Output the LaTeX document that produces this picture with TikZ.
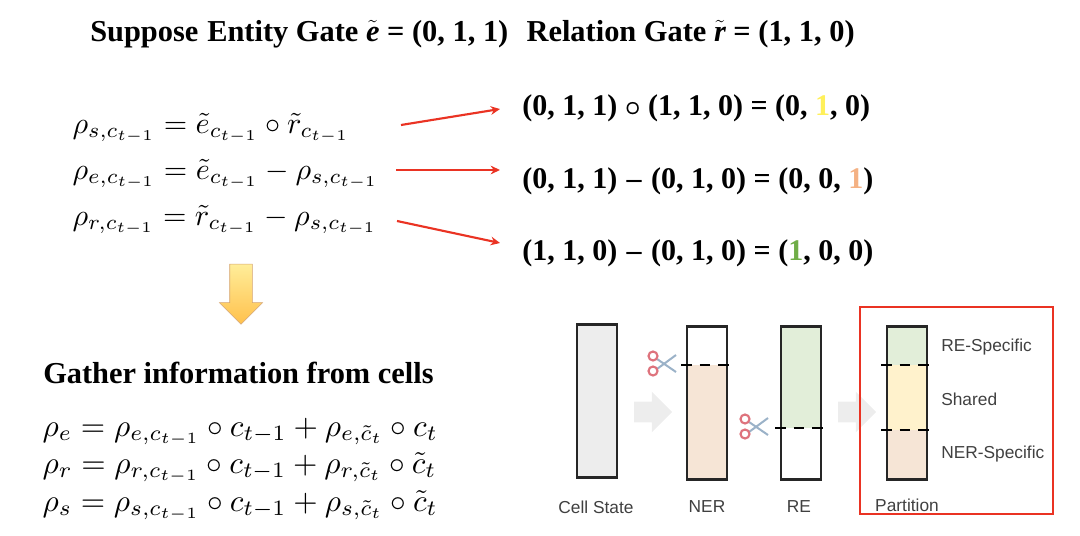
\documentclass[tikz,border=0pt]{standalone}
\usepackage{amsmath,amssymb}
\usepackage{xcolor}
\usepackage{fontspec}
\setmainfont{Liberation Serif}
\setsansfont{Liberation Sans}
\usepackage{tikz}
\usetikzlibrary{shapes.arrows,arrows.meta,positioning}
\definecolor{nerfill}{RGB}{246,229,214}
\definecolor{refill}{RGB}{226,238,217}
\definecolor{sharedfill}{RGB}{255,242,204}
\definecolor{cellfill}{RGB}{237,237,237}
\definecolor{linkred}{RGB}{234,51,35}
\definecolor{oneyellow}{RGB}{255,240,90}
\definecolor{oneorange}{RGB}{244,177,131}
\definecolor{onegreen}{RGB}{112,173,71}
\definecolor{bladeblue}{RGB}{155,178,200}
\definecolor{looppink}{RGB}{222,115,125}
\newcommand{\bcirc}{$\boldsymbol{\circ}$}
\newcommand{\dashgap}{\hspace{1.5pt}--\hspace{1.5pt}}
\tikzset{
  titletext/.style={anchor=base west, inner sep=0pt, font=\fontsize{22.8}{27}\selectfont\bfseries},
  restext/.style={anchor=base west, inner sep=0pt, font=\fontsize{22.5}{27}\selectfont\bfseries},
  eqtext/.style={anchor=base west, inner sep=0pt, scale=2.26},
  gathertext/.style={anchor=base west, inner sep=0pt, scale=2.35},
  celllabel/.style={inner sep=0pt, text=black!75, font=\sffamily\fontsize{13}{15}\selectfont},
  cellbox/.style={rectangle, draw=black!85, line width=2pt, minimum width=30pt, minimum height=115pt, inner sep=0pt},
  cutline/.style={black, line width=1.5pt, dash pattern=on 8pt off 6pt},
  arrow/.style={-{Stealth[length=7pt,width=6.5pt]}, linkred, line width=1.6pt},
  flowarrow/.style={single arrow, draw=none, fill=black!7, inner xsep=0pt, inner ysep=7.5pt, minimum height=28.5pt, single arrow head extend=7.5pt},
  scissors/.pic={
    \draw[bladeblue, line width=1.5pt] (-5,-5) -- (14,8) (-5,5) -- (14,-9);
    \draw[looppink, line width=1.6pt, fill=white] (-9,-8) circle (4.5) (-9,7) circle (4.5);
  },
}
\begin{document}
\begin{tikzpicture}[x=0.75pt, y=-0.75pt]
  \useasboundingbox (0,0) rectangle (1080,535);

  % Title
  \node[titletext] (title) at (90,41) {Suppose\hspace{1pt} Entity Gate $\tilde{\text{\itshape e}}$ = (0, 1, 1)\hspace{8pt} Relation Gate $\tilde{\text{\itshape r}}$ = (1, 1, 0)};

  % Gate equations
  \node[eqtext] (eqs) at (72,133) {$\rho_{s,c_{t-1}} = \tilde{e}_{c_{t-1}} \circ \tilde{r}_{c_{t-1}}$};
  \node[eqtext] (eqe) at (72,179) {$\rho_{e,c_{t-1}} = \tilde{e}_{c_{t-1}} - \rho_{s,c_{t-1}}$};
  \node[eqtext] (eqr) at (72,225) {$\rho_{r,c_{t-1}} = \tilde{r}_{c_{t-1}} - \rho_{s,c_{t-1}}$};

  % Worked results
  \node[restext] (ress) at (522,115) {(0, 1, 1) \bcirc{} (1, 1, 0) = (0, \textcolor{oneyellow}{1}, 0)};
  \node[restext] (rese) at (522,188) {(0, 1, 1) \dashgap{} (0, 1, 0) = (0, 0, \textcolor{oneorange}{1})};
  \node[restext] (resr) at (522,260) {(1, 1, 0) \dashgap{} (0, 1, 0) = (\textcolor{onegreen}{1}, 0, 0)};

  % Red arrows
  \coordinate (froms) at (401,125);
  \coordinate (tos) at (500,109);
  \coordinate (frome) at (396,170);
  \coordinate (toe) at (500,170);
  \coordinate (fromr) at (397,221);
  \coordinate (tor) at (500,243);
  \draw[arrow] (froms) -- (tos);
  \draw[arrow] (frome) -- (toe);
  \draw[arrow] (fromr) -- (tor);

  % Down arrow
  \node[single arrow, rotate=-90, draw=black!30!orange!55!white, top color=orange!35!yellow!40!white, bottom color=orange!70!yellow!70!white, inner xsep=0pt, inner ysep=8.25pt, minimum height=45pt, single arrow head extend=7.75pt] (down) at (241,288.5) {};

  % Gather equations
  \node[titletext] (gather) at (43,383) {Gather information from cells};
  \node[gathertext] (gate) at (42,436) {$\rho_{e} = \rho_{e,c_{t-1}} \circ c_{t-1} + \rho_{e,\tilde{c}_t} \circ c_t$};
  \node[gathertext] (gatr) at (42,473) {$\rho_{r} = \rho_{r,c_{t-1}} \circ c_{t-1} + \rho_{r,\tilde{c}_t} \circ \tilde{c}_t$};
  \node[gathertext] (gats) at (42,511) {$\rho_{s} = \rho_{s,c_{t-1}} \circ c_{t-1} + \rho_{s,\tilde{c}_t} \circ \tilde{c}_t$};

  % Cell fills
  \fill[nerfill] (687,365) rectangle (727,480);
  \fill[refill] (781,326) rectangle (821,428);
  \fill[refill] (887,326) rectangle (927,365);
  \fill[sharedfill] (887,365) rectangle (927,430);
  \fill[nerfill] (887,430) rectangle (927,480);

  % Cells
  \node[cellbox, fill=cellfill] (cell) at (597,401) {};
  \node[cellbox] (ner) at (707,403) {};
  \node[cellbox] (re) at (801,403) {};
  \node[cellbox] (part) at (907,403) {};

  % Cut lines
  \draw[cutline] (681,365) -- (734,365);
  \draw[cutline] (775,428) -- (828,428);
  \draw[cutline] (881,365) -- (934,365);
  \draw[cutline] (881,430) -- (934,430);

  % Scissors and flow arrows
  \pic at (662,364) {scissors};
  \pic at (754,427) {scissors};
  \node[flowarrow] (flowa) at (648,412) {};
  \node[flowarrow] (flowb) at (852,412) {};

  % Labels
  \node[celllabel] (celltxt) at (596,507) {Cell State};
  \node[celllabel] (nertxt) at (707,507) {NER};
  \node[celllabel] (retxt) at (799,507) {RE};
  \node[celllabel] (parttxt) at (907,505) {Partition};
  \node[celllabel, anchor=west] (respec) at (941,347) {RE-Specific};
  \node[celllabel, anchor=west] (shared) at (941,399) {Shared};
  \node[celllabel, anchor=west] (nerspec) at (941,454) {NER-Specific};

  % Partition frame
  \draw[linkred, line width=1.9pt] (860,307) rectangle (1053,514);
\end{tikzpicture}
\end{document}
